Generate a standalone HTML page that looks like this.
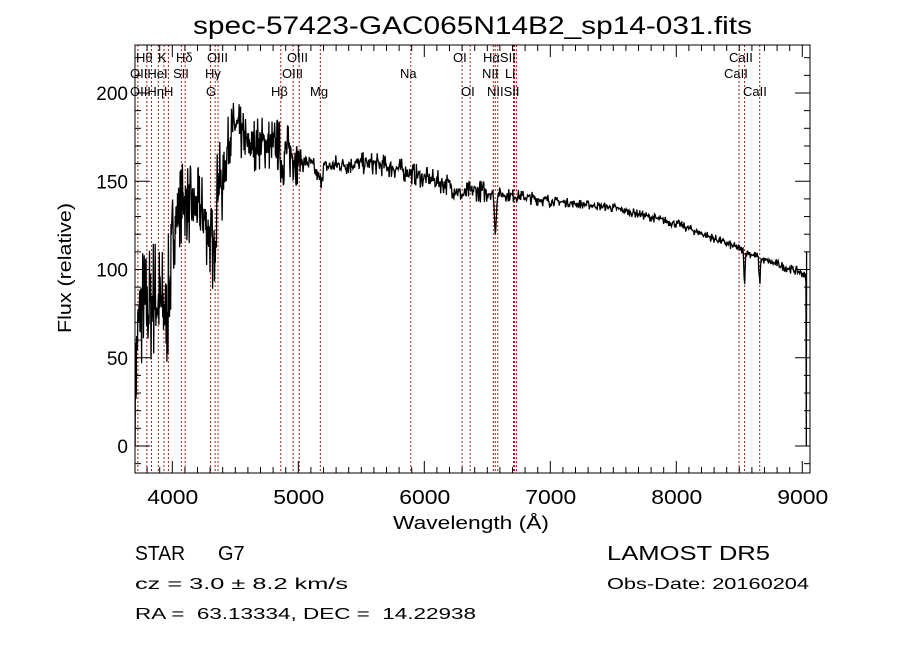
<!DOCTYPE html>
<html><head><meta charset="utf-8">
<style>
html,body{margin:0;padding:0;background:#fff;}
svg{display:block;font-family:"Liberation Sans",sans-serif;}
</style></head><body>
<svg id="s" width="900" height="649" viewBox="0 0 900 649" xmlns="http://www.w3.org/2000/svg">
<rect width="900" height="649" fill="#fff"/>
<g id="lines"></g>
<polyline id="spec" fill="none" stroke="#000" stroke-width="1.3"/>
<g id="axes"></g>
<text x="193" y="34" font-size="25" textLength="559" lengthAdjust="spacingAndGlyphs">spec-57423-GAC065N14B2_sp14-031.fits</text>
<text x="393" y="529" font-size="18" textLength="156" lengthAdjust="spacingAndGlyphs">Wavelength (Å)</text>
<text transform="translate(71,333) rotate(-90)" font-size="18" textLength="130" lengthAdjust="spacingAndGlyphs">Flux (relative)</text>
<g font-size="13">
<text x="136" y="62">Hθ</text><text x="158" y="62">K</text><text x="176" y="62">Hδ</text><text x="207" y="62">OIII</text><text x="287" y="62">OIII</text><text x="453" y="62">OI</text><text x="483" y="62">HαSII</text><text x="729" y="62">CaII</text>
<text x="130" y="78">OIIHeI</text><text x="173" y="78">SII</text><text x="205" y="78">Hγ</text><text x="282" y="78">OIII</text><text x="400" y="78">Na</text><text x="482" y="78">NII</text><text x="505" y="78">Li</text><text x="724" y="78">CaII</text>
<text x="130" y="96">OIIHη</text><text x="164" y="96">H</text><text x="206" y="96">G</text><text x="271" y="96">Hβ</text><text x="310" y="96">Mg</text><text x="461" y="96">OI</text><text x="487" y="96">NIISII</text><text x="743" y="96">CaII</text>
</g>
<g font-size="20">
<text x="135" y="560" textLength="50" lengthAdjust="spacingAndGlyphs">STAR</text><text x="218" y="560">G7</text>
<text x="607" y="560" textLength="163" lengthAdjust="spacingAndGlyphs">LAMOST DR5</text>
</g>
<g font-size="16">
<text x="135" y="589" textLength="213" lengthAdjust="spacingAndGlyphs">cz = 3.0 ± 8.2 km/s</text>
<text x="607" y="589" textLength="202" lengthAdjust="spacingAndGlyphs">Obs-Date: 20160204</text>
<text x="135" y="619" textLength="341" lengthAdjust="spacingAndGlyphs" xml:space="preserve">RA =  63.13334, DEC =  14.22938</text>
</g>
</svg>
<script>
var X=function(l){return 172.3+(l-4000)*0.126;};
var Y=function(v){return 446-v*1.765;};
var L=135,R=810,T=45,B=473,NS="http://www.w3.org/2000/svg";
function el(t,a,p){var e=document.createElementNS(NS,t);for(var k in a)e.setAttribute(k,a[k]);p.appendChild(e);return e;}
var lg=document.getElementById('lines');
[3727,3798,3835,3889,3934,3969,4072,4102,4304,4340,4363,4861,4959,5007,5175,5893,6300,6364,6548,6563,6583,6708,6716,6731,8498,8542,8662].forEach(function(l){
 var x=X(l);el('line',{x1:x,x2:x,y1:T,y2:B,stroke:'#b01818','stroke-width':1,'stroke-dasharray':'2,2'},lg);});
var ax=document.getElementById('axes');
el('rect',{x:L,y:T,width:R-L,height:B-T,fill:'none',stroke:'#000','stroke-width':1},ax);
for(var l=3800;l<=9000;l+=100){var x=X(l),m=(l%1000==0);var h=m?12:6;
 el('line',{x1:x,x2:x,y1:B,y2:B-h,stroke:'#000'},ax);el('line',{x1:x,x2:x,y1:T,y2:T+h,stroke:'#000'},ax);
 if(m){var t=el('text',{x:x-25,y:B+31,'font-size':20,textLength:51,lengthAdjust:'spacingAndGlyphs'},ax);t.textContent=l;}}
for(var v=-10;v<=220;v+=10){var y=Y(v),m=(v%50==0);var h=m?15:6;
 el('line',{x1:L,x2:L+h,y1:y,y2:y,stroke:'#000'},ax);el('line',{x1:R,x2:R-h,y1:y,y2:y,stroke:'#000'},ax);
 if(m){var t=el('text',{x:L-7,y:y+7,'font-size':19,'text-anchor':'end'},ax);t.textContent=v;}}
var A=[[3705,20],[3720,60],[3750,80],[3800,75],[3850,85],[3900,80],[3950,75],[3990,95],[4000,120],[4050,135],[4100,140],[4150,135],[4200,135],[4250,130],[4300,118],[4330,108],[4360,150],[4400,148],[4450,175],[4500,182],[4550,176],[4600,170],[4700,172],[4850,170],[4870,158],[4900,168],[5000,162],[5100,160],[5175,150],[5200,158],[5400,160],[5600,160],[5800,157],[6000,152],[6200,148],[6300,142],[6400,145],[6550,143],[6563,118],[6580,143],[7000,139],[7500,135],[8000,126],[8530,111],[8542,92],[8552,110],[8650,107],[8662,90],[8672,106],[9000,98],[9030,95]];
function base(l){for(var i=0;i<A.length-1;i++){if(l<=A[i+1][0]){var f=(l-A[i][0])/(A[i+1][0]-A[i][0]);return A[i][1]+f*(A[i+1][1]-A[i][1]);}}return A[A.length-1][1];}
function amp(l){return l<4000?28:l<4400?18:l<5000?12:l<6500?5:l<7000?3:2;}
var seed=7;function rnd(){seed=(seed*16807)%2147483647;return seed/2147483647;}
var pts=[];for(var l=3705;l<=9030;l+=(l<5000?3:4.5)){var r=rnd()-0.5;var v=base(l)+r*2*amp(l)*(Math.abs(r)>0.4?1.3:0.8);if(v<0)v=0;pts.push(X(l).toFixed(1)+','+Y(v).toFixed(1));}
pts.push(X(9032)+','+Y(0));pts.push(X(9034)+','+Y(110));
document.getElementById('spec').setAttribute('points',pts.join(' '));
</script>
</body></html>
